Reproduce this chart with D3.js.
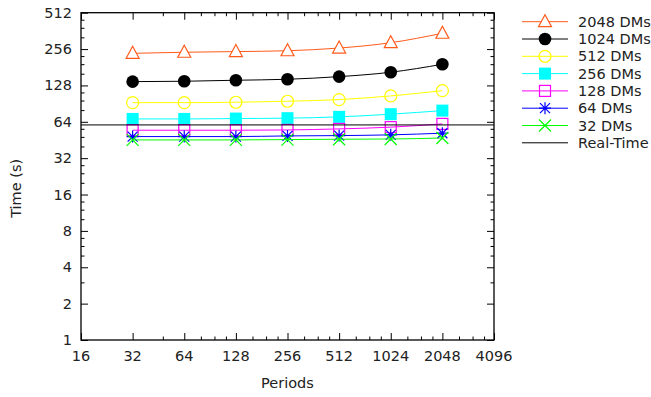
<!DOCTYPE html>
<html>
<head>
<meta charset="utf-8">
<script src="https://cdn.jsdelivr.net/npm/d3@7"></script>
<style>
  body { margin: 0; background: #fff; }
  text { font-family: "DejaVu Sans", sans-serif; font-size: 14.5px; fill: #222; }
</style>
</head>
<body>
<script>
// periods on the x axis
var periods = [32, 64, 128, 256, 512, 1024, 2048];

// time (s) per DM count
var dms2048 = [236, 241, 244, 248, 261, 289, 346];
var dms1024 = [137.6, 138.6, 141.3, 144, 151.4, 164.6, 191.6];
var dms512 = [92.2, 92.2, 92.9, 94.7, 97.7, 104.8, 115.9];
var dms256 = [67.6, 67.6, 68.1, 68.6, 70.3, 74, 79.2];
var dms128 = [54.5, 54.5, 54.5, 54.8, 55.9, 57.8, 61.5];
var dms64 = [48.3, 48.3, 48.3, 48.9, 49.2, 49.9, 51.5];
var dms32 = [45.3, 45.3, 45.3, 45.6, 45.9, 46.1, 47];
var realTime = 60.3;

var seriesNames = ["2048 DMs", "1024 DMs", "512 DMs", "256 DMs", "128 DMs", "64 DMs", "32 DMs"];
var seriesValues = [dms2048, dms1024, dms512, dms256, dms128, dms64, dms32];
var seriesColors = ["#ff5a1a", "#000000", "#ffff00", "#00ffff", "#ff00ff", "#0000ff", "#00ff00"];
var seriesMarkers = ["triangle", "dot", "circle", "box", "square", "star", "cross"];

// ticks
var xTicks = [16, 32, 64, 128, 256, 512, 1024, 2048, 4096];
var xMinor = [48, 80, 96, 112, 160, 192, 224, 320, 384, 448, 640, 768, 896, 1280, 1536, 1792, 2560, 3072, 3584];
var yTicks = [1, 2, 4, 8, 16, 32, 64, 128, 256, 512];
var yMinor = [3, 5, 6, 7, 10, 12, 14, 20, 24, 28, 40, 48, 56, 80, 96, 112, 160, 192, 224, 320, 384, 448];

var width = 651, height = 397;
var plotLeft = 81, plotRight = 494, plotTop = 12.7, plotBottom = 340;

var svg = d3.select("body").append("svg")
  .attr("width", width)
  .attr("height", height);

var x = d3.scaleLog().base(2).domain([16, 4096]).range([plotLeft, plotRight]);
var y = d3.scaleLog().base(2).domain([1, 512]).range([plotBottom, plotTop]);

// ticks pointing inwards, mirrored on top and right
function tickGroup(axisFn, scale, values, size, transform) {
  svg.append("g")
    .attr("transform", transform)
    .call(axisFn(scale).tickValues(values).tickSize(size).tickFormat(""))
    .call(function(g) { g.select(".domain").remove(); })
    .selectAll("line").attr("stroke", "#000").attr("stroke-width", 1);
}
tickGroup(d3.axisTop, x, xTicks, 7, "translate(0," + plotBottom + ")");
tickGroup(d3.axisTop, x, xMinor, 3.5, "translate(0," + plotBottom + ")");
tickGroup(d3.axisBottom, x, xTicks, 7, "translate(0," + plotTop + ")");
tickGroup(d3.axisBottom, x, xMinor, 3.5, "translate(0," + plotTop + ")");
tickGroup(d3.axisRight, y, yTicks, 7, "translate(" + plotLeft + ",0)");
tickGroup(d3.axisRight, y, yMinor, 3.5, "translate(" + plotLeft + ",0)");
tickGroup(d3.axisLeft, y, yTicks, 7, "translate(" + plotRight + ",0)");
tickGroup(d3.axisLeft, y, yMinor, 3.5, "translate(" + plotRight + ",0)");

// tick labels
svg.append("g").selectAll("text")
  .data(xTicks)
  .enter().append("text")
  .attr("x", function(d) { return x(d); })
  .attr("y", plotBottom + 21)
  .style("text-anchor", "middle")
  .text(function(d) { return d; });

svg.append("g").selectAll("text")
  .data(yTicks)
  .enter().append("text")
  .attr("x", plotLeft - 9)
  .attr("y", function(d) { return y(d) + 5; })
  .style("text-anchor", "end")
  .text(function(d) { return d; });

// axis titles
svg.append("text")
  .attr("x", (plotLeft + plotRight) / 2)
  .attr("y", 388)
  .style("text-anchor", "middle")
  .text("Periods");

svg.append("text")
  .attr("transform", "translate(21," + ((plotTop + plotBottom) / 2 + 12) + ") rotate(-90)")
  .style("text-anchor", "middle")
  .text("Time (s)");

// markers
function drawMarker(g, type, color, cx, cy) {
  var s = 6;
  if (type == "triangle") {
    g.append("path")
      .attr("d", "M" + cx + "," + (cy - s - 1) + "L" + (cx + s + 0.5) + "," + (cy + s - 1) + "L" + (cx - s - 0.5) + "," + (cy + s - 1) + "Z")
      .attr("fill", "#fff").attr("stroke", color).attr("stroke-width", 1.2);
  } else if (type == "dot") {
    g.append("circle").attr("cx", cx).attr("cy", cy).attr("r", 6.3).attr("fill", color);
  } else if (type == "circle") {
    g.append("circle").attr("cx", cx).attr("cy", cy).attr("r", 6)
      .attr("fill", "none").attr("stroke", color).attr("stroke-width", 1.2);
  } else if (type == "box") {
    g.append("rect").attr("x", cx - 6).attr("y", cy - 6).attr("width", 12).attr("height", 12).attr("fill", color);
  } else if (type == "square") {
    g.append("rect").attr("x", cx - 5.5).attr("y", cy - 5.5).attr("width", 11).attr("height", 11)
      .attr("fill", "none").attr("stroke", color).attr("stroke-width", 1.2);
  } else if (type == "star") {
    g.append("path")
      .attr("d", "M" + (cx - 6) + "," + cy + "H" + (cx + 6) + "M" + cx + "," + (cy - 6) + "V" + (cy + 6) +
        "M" + (cx - 5) + "," + (cy - 5) + "L" + (cx + 5) + "," + (cy + 5) +
        "M" + (cx - 5) + "," + (cy + 5) + "L" + (cx + 5) + "," + (cy - 5))
      .attr("stroke", color).attr("stroke-width", 1.2);
  } else if (type == "cross") {
    g.append("path")
      .attr("d", "M" + (cx - 6) + "," + (cy - 6) + "L" + (cx + 6) + "," + (cy + 6) +
        "M" + (cx - 6) + "," + (cy + 6) + "L" + (cx + 6) + "," + (cy - 6))
      .attr("stroke", color).attr("stroke-width", 1.2);
  }
}

var line = d3.line()
  .x(function(d) { return x(d[0]); })
  .y(function(d) { return y(d[1]); })
  .curve(d3.curveMonotoneX);

// series
for (let i = 0; i < seriesNames.length; i++) {
  var pts = periods.map(function(p, j) { return [p, seriesValues[i][j]]; });
  var g = svg.append("g");
  g.append("path")
    .attr("d", line(pts))
    .attr("fill", "none")
    .attr("stroke", seriesColors[i])
    .attr("stroke-width", 1);
  pts.forEach(function(d) {
    drawMarker(g, seriesMarkers[i], seriesColors[i], x(d[0]), y(d[1]));
  });
}

// real-time line
svg.append("line")
  .attr("x1", plotLeft).attr("x2", plotRight)
  .attr("y1", y(realTime)).attr("y2", y(realTime))
  .attr("stroke", "#000").attr("stroke-width", 1);

// frame
svg.append("rect")
  .attr("x", plotLeft).attr("y", plotTop)
  .attr("width", plotRight - plotLeft).attr("height", plotBottom - plotTop)
  .attr("fill", "none").attr("stroke", "#000").attr("stroke-width", 1.3);

// legend
var legendNames = seriesNames.concat(["Real-Time"]);
var legend = svg.selectAll(".legend")
  .data(legendNames)
  .enter().append("g")
  .attr("class", "legend")
  .attr("transform", function(d, i) { return "translate(0," + (21.7 + i * 17.3) + ")"; });

legend.append("line")
  .attr("x1", 522).attr("x2", 568)
  .attr("y1", 0).attr("y2", 0)
  .attr("stroke", function(d, i) { return i < seriesColors.length ? seriesColors[i] : "#000"; })
  .attr("stroke-width", 1);

legend.each(function(d, i) {
  if (i < seriesMarkers.length) drawMarker(d3.select(this), seriesMarkers[i], seriesColors[i], 545, 0);
});

legend.append("text")
  .attr("x", 578)
  .attr("y", 5)
  .text(function(d) { return d; });
</script>
</body>
</html>
